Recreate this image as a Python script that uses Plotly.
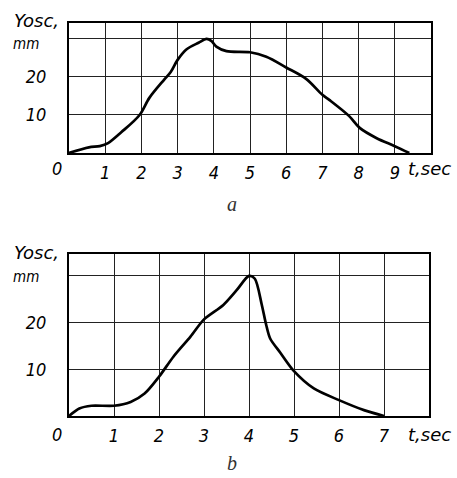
import plotly.graph_objects as go

# ---- data ----
t_a = [0, 0.55, 0.85, 1.08, 1.45, 1.95, 2.22, 2.62, 2.81, 3.0, 3.25, 3.58, 3.8, 3.93, 4.07, 4.35, 5.0, 5.45, 6.0, 6.55, 7.0, 7.2, 7.74, 8.03, 8.5, 9.0, 9.4]
y_a = [0, 1.5, 1.8, 2.6, 5.5, 10.0, 14.5, 19.2, 21.3, 24.5, 27.3, 29.0, 30.0, 29.5, 28.0, 26.8, 26.5, 25.3, 22.5, 19.5, 15.3, 13.9, 9.7, 6.6, 3.9, 1.8, 0]

t_b = [0, 0.23, 0.5, 1.0, 1.37, 1.68, 2.0, 2.32, 2.7, 3.0, 3.43, 3.73, 4.0, 4.13, 4.28, 4.38, 4.47, 4.7, 5.0, 5.44, 6.0, 6.57, 7.0]
y_b = [0, 1.6, 2.2, 2.2, 3.0, 4.8, 8.4, 12.7, 17.0, 20.7, 23.8, 27.0, 30.0, 29.4, 24.0, 19.6, 16.6, 13.5, 9.6, 5.9, 3.4, 1.2, 0]

xticks_a = [0, 1, 2, 3, 4, 5, 6, 7, 8, 9]
xticks_b = [0, 1, 2, 3, 4, 5, 6, 7]
yticks = [10, 20, 30]
ytick_labels = ["10", "20", ""]

W, H = 457, 478
DIG = dict(family="DejaVu Sans Condensed, DejaVu Sans", size=18, color="black", style="italic")
WORD = dict(family="DejaVu Sans", size=18, color="black", style="italic")
MM = dict(family="DejaVu Sans Condensed, DejaVu Sans", size=15, color="black", style="italic")

fig = go.Figure()
fig.add_trace(go.Scatter(x=t_a, y=y_a, mode="lines", line=dict(color="black", width=2.7, shape="spline", smoothing=0.9),
                         xaxis="x", yaxis="y", showlegend=False, hoverinfo="skip"))
fig.add_trace(go.Scatter(x=t_b, y=y_b, mode="lines", line=dict(color="black", width=2.7, shape="spline", smoothing=0.8),
                         xaxis="x2", yaxis="y2", showlegend=False, hoverinfo="skip"))

common_x = dict(showline=True, linecolor="black", linewidth=2, mirror=True, showgrid=True, gridcolor="#222",
                gridwidth=1, zeroline=False, ticks="", ticklen=0, tickfont=DIG, ticklabelstandoff=2, fixedrange=True)
common_y = dict(showline=True, linecolor="black", linewidth=2, mirror=True, showgrid=True, gridcolor="#222",
                gridwidth=1, zeroline=False, ticks="", ticklen=0, tickfont=DIG, ticklabelstandoff=17, fixedrange=True,
                tickvals=yticks, ticktext=ytick_labels)

fig.update_layout(
    width=W, height=H, margin=dict(l=0, r=0, t=0, b=0),
    paper_bgcolor="white", plot_bgcolor="white",
    xaxis=dict(common_x, domain=[69 / W, 431 / W], range=[0, 10], anchor="y",
               tickvals=xticks_a, ticktext=[""] + [str(v) for v in xticks_a[1:]]),
    yaxis=dict(common_y, domain=[1 - 153 / H, 1 - 23 / H], range=[0, 34.2], anchor="x"),
    xaxis2=dict(common_x, domain=[69 / W, 429 / W], range=[0, 8], anchor="y2",
                tickvals=xticks_b, ticktext=[""] + [str(v) for v in xticks_b[1:]]),
    yaxis2=dict(common_y, domain=[1 - 416 / H, 1 - 254 / H], range=[0, 34.7], anchor="x2"),
)

def txt(x, y, s, font, xanchor="center"):
    fig.add_annotation(x=x / W, y=1 - y / H, xref="paper", yref="paper", text=s, showarrow=False,
                       font=font, xanchor=xanchor, yanchor="middle")

# chart a labels
txt(12, 20, "Yosc,", WORD, xanchor="left")
txt(11, 44, "mm", MM, xanchor="left")
txt(57, 168, "0", DIG)
txt(406, 168, "t,sec", WORD, xanchor="left")
# chart b labels
txt(12, 252, "Yosc,", WORD, xanchor="left")
txt(11, 277, "mm", MM, xanchor="left")
txt(57, 434, "0", DIG)
txt(406, 434, "t,sec", WORD, xanchor="left")

CAP = dict(family="Liberation Serif, Times New Roman, serif", size=20, color="#333", style="italic")
txt(232, 204, "a", CAP)
txt(232, 463, "b", CAP)

fig.write_html("out.html")
